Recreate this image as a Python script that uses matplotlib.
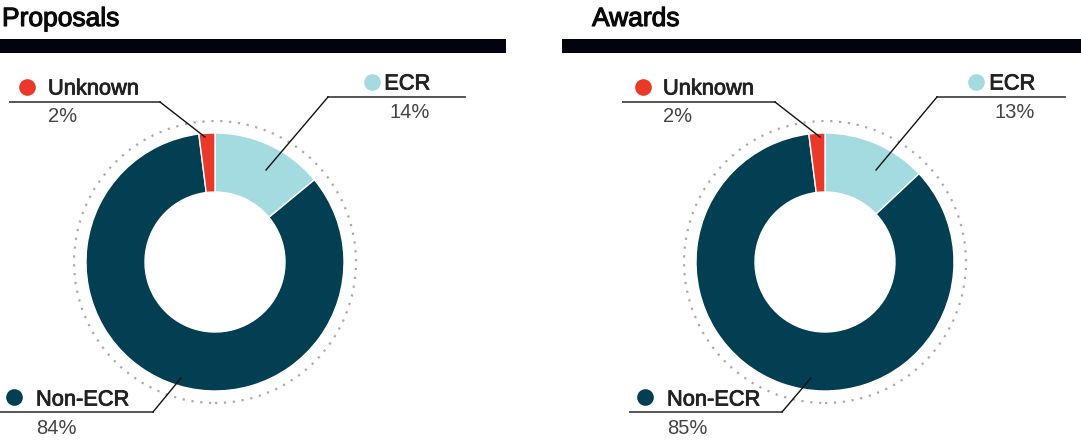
import numpy as np
import matplotlib
matplotlib.use("Agg")
import matplotlib.pyplot as plt
import matplotlib.patheffects as pe
from matplotlib.patches import Circle

# Data
panels = ["Proposals", "Awards"]
categories = ["ECR", "Non-ECR", "Unknown"]
proposal_shares = [14, 84, 2]
award_shares = [13, 85, 2]
colors = ["#A3DBE0", "#023F52", "#E8392A"]

W, H = 1081, 442
fig = plt.figure(figsize=(W / 100, H / 100), dpi=100)
plt.rcParams["font.family"] = ["Liberation Sans", "DejaVu Sans"]

R_OUT, R_IN, R_DOT = 129, 70, 141
HALF = 150


def donut(cx, cy, values):
    ax = fig.add_axes([(cx - HALF) / W, (H - cy - HALF) / H, 2 * HALF / W, 2 * HALF / H])
    ax.pie(values, colors=colors, startangle=90, counterclock=False, radius=1,
           wedgeprops=dict(width=(R_OUT - R_IN) / R_OUT, edgecolor="white", linewidth=1))
    ax.add_patch(Circle((0, 0), R_DOT / R_OUT, fill=False, edgecolor="#aaaaaa",
                        linestyle=(0, (1, 3)), linewidth=1.6))
    lim = HALF / R_OUT
    ax.set_xlim(-lim, lim)
    ax.set_ylim(-lim, lim)
    ax.set_aspect("equal")
    ax.axis("off")


overlay = fig.add_axes([0, 0, 1, 1], zorder=5)
overlay.set_xlim(0, W)
overlay.set_ylim(H, 0)
overlay.axis("off")
overlay.patch.set_alpha(0)

# layout per panel (pixel coordinates)
layout = [
    dict(title_x=2, bar=(0, 506), cx=215, cy=262,
         ecr=dict(line=(328, 465), tip=(266, 170), dot=372, txt=430),
         unk=dict(line=(10, 160), tip=(205, 137), dot=27, txt=48),
         non=dict(line=(0, 153), tip=(181, 378), dot=14, txt=36)),
    dict(title_x=592, bar=(562, 1081), cx=825, cy=262,
         ecr=dict(line=(937, 1065), tip=(876, 170), dot=976, txt=1035),
         unk=dict(line=(623, 775), tip=(820, 137), dot=643, txt=663),
         non=dict(line=(630, 782), tip=(811, 378), dot=645, txt=667)),
]

# Liberation has no medium weight; a thin stroke fakes it
medium = [pe.withStroke(linewidth=0.6, foreground="#222222")]
LBL = dict(fontsize=15.7, color="#222222", va="center", path_effects=medium)
PCT = dict(fontsize=14.5, color="#444444", va="center")

for name, values, lay in zip(panels, [proposal_shares, award_shares], layout):
    overlay.text(lay["title_x"], 19, name, fontsize=19, color="#0a0a0a",
                 va="center", ha="left",
                 path_effects=[pe.withStroke(linewidth=0.8, foreground="#0a0a0a")])
    overlay.fill_between(lay["bar"], 39, 53, color="#03030F", linewidth=0)
    donut(lay["cx"], lay["cy"], values)

    # ECR label (top right, right aligned)
    e = lay["ecr"]
    overlay.plot(e["line"], [97, 97], color="#555555", lw=1.4)
    overlay.plot([e["line"][0], e["tip"][0]], [97, e["tip"][1]], color="#111111", lw=1)
    overlay.plot(e["dot"], 82, "o", ms=12, color=colors[0], mec="none")
    overlay.text(e["txt"], 84, categories[0], ha="right", **LBL)
    overlay.text(e["txt"], 112, f"{values[0]}%", ha="right", **PCT)

    # Unknown label (top left)
    u = lay["unk"]
    overlay.plot(u["line"], [102, 102], color="#555555", lw=1.4)
    overlay.plot([u["line"][1], u["tip"][0]], [102, u["tip"][1]], color="#111111", lw=1)
    overlay.plot(u["dot"], 87, "o", ms=12, color=colors[2], mec="none")
    overlay.text(u["txt"], 89, categories[2], ha="left", **LBL)
    overlay.text(u["txt"], 117, f"{values[2]}%", ha="left", **PCT)

    # Non-ECR label (bottom left)
    n = lay["non"]
    overlay.plot(n["line"], [412, 412], color="#555555", lw=1.4)
    overlay.plot([n["line"][1], n["tip"][0]], [412, n["tip"][1]], color="#111111", lw=1)
    overlay.plot(n["dot"], 397, "o", ms=12, color=colors[1], mec="none")
    overlay.text(n["txt"], 400, categories[1], ha="left", **LBL)
    overlay.text(n["txt"], 428, f"{values[1]}%", ha="left", **PCT)

fig.savefig("out.png", dpi=100)
